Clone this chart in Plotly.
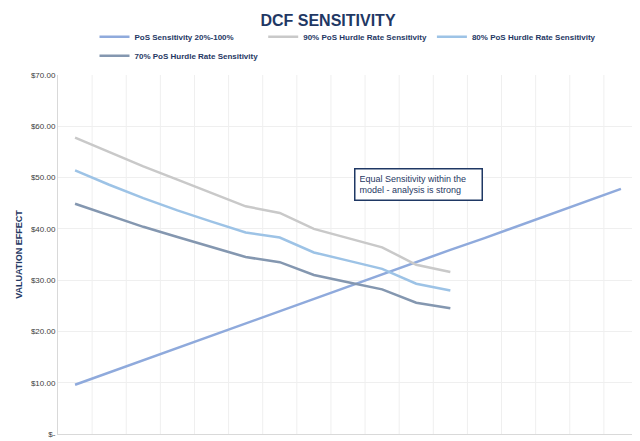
import plotly.graph_objects as go

cats = [f"{p}%" for p in range(20, 101, 5)]
pos = [9.6, 12.0, 14.4, 16.8, 19.2, 21.5, 23.9, 26.3, 28.7, 31.1, 33.5, 35.9, 38.2, 40.6, 43.0, 45.4, 47.8]
h90 = [57.8, 55.0, 52.2, 49.6, 47.0, 44.4, 43.1, 40.0, 38.2, 36.4, 33.0, 31.6]
h80 = [51.4, 48.6, 46.0, 43.6, 41.4, 39.3, 38.3, 35.4, 33.8, 32.2, 29.3, 28.0]
h70 = [44.9, 42.6, 40.4, 38.4, 36.4, 34.5, 33.5, 31.0, 29.6, 28.2, 25.6, 24.5]
names = ["<b>PoS Sensitivity 20%-100%</b>", "<b>90% PoS Hurdle Rate Sensitivity</b>",
         "<b>80% PoS Hurdle Rate Sensitivity</b>", "<b>70% PoS Hurdle Rate Sensitivity</b>"]
colors = ["#8FAADC", "#C9C9C9", "#9DC3E6", "#8497B0"]

fig = go.Figure()
for name, vals, c in zip(names, [pos, h90, h80, h70], colors):
    fig.add_trace(go.Scatter(x=cats[:len(vals)], y=vals, name=name, mode="lines",
                             line=dict(color=c, width=2.5)))
fig.update_layout(
    width=640, height=441, paper_bgcolor="white", plot_bgcolor="white",
    margin=dict(l=50, r=10, t=67, b=11),
    title=dict(text="<b>DCF SENSITIVITY</b>", x=0.5, y=0.985, xanchor="center", yanchor="top",
               font=dict(family="Liberation Sans", size=16, color="#1F3864")),
    legend=dict(orientation="h", x=0.5, xanchor="center", y=1.08, yanchor="middle",
                font=dict(family="Liberation Sans", size=8, color="#1F3864"),
                itemwidth=30, tracegroupgap=0, entrywidthmode="pixels"),
    font=dict(family="Liberation Sans", color="#1F3864"),
)
fig.update_xaxes(showticklabels=False, showgrid=False, showline=True, linecolor="#D9D9D9",
                 range=[-0.5, 16.5])
for i in range(17):
    fig.add_vline(x=i + 0.5, line=dict(color="#EFEFEF", width=1), layer="below")
fig.update_yaxes(range=[0, 70], tickvals=list(range(0, 71, 10)),
                 ticktext=["$-"] + [f"${v}.00" for v in range(10, 71, 10)],
                 tickfont=dict(size=8, color="#404040"), gridcolor="#EFEFEF", zeroline=False,
                 showline=True, linecolor="#D9D9D9",
                 title=dict(text="<b>VALUATION EFFECT</b>", font=dict(size=9, color="#1F3864"), standoff=6))
fig.add_annotation(x=0.51, y=0.74, xref="paper", yref="paper", xanchor="left", yanchor="top",
                   text="Equal Sensitivity within the<br>model - analysis is strong", align="left",
                   showarrow=False, bordercolor="#1F3864", borderwidth=1.5, borderpad=4, bgcolor="white",
                   font=dict(size=9, color="#1F3864"), width=118)
fig.write_html("out.html")
